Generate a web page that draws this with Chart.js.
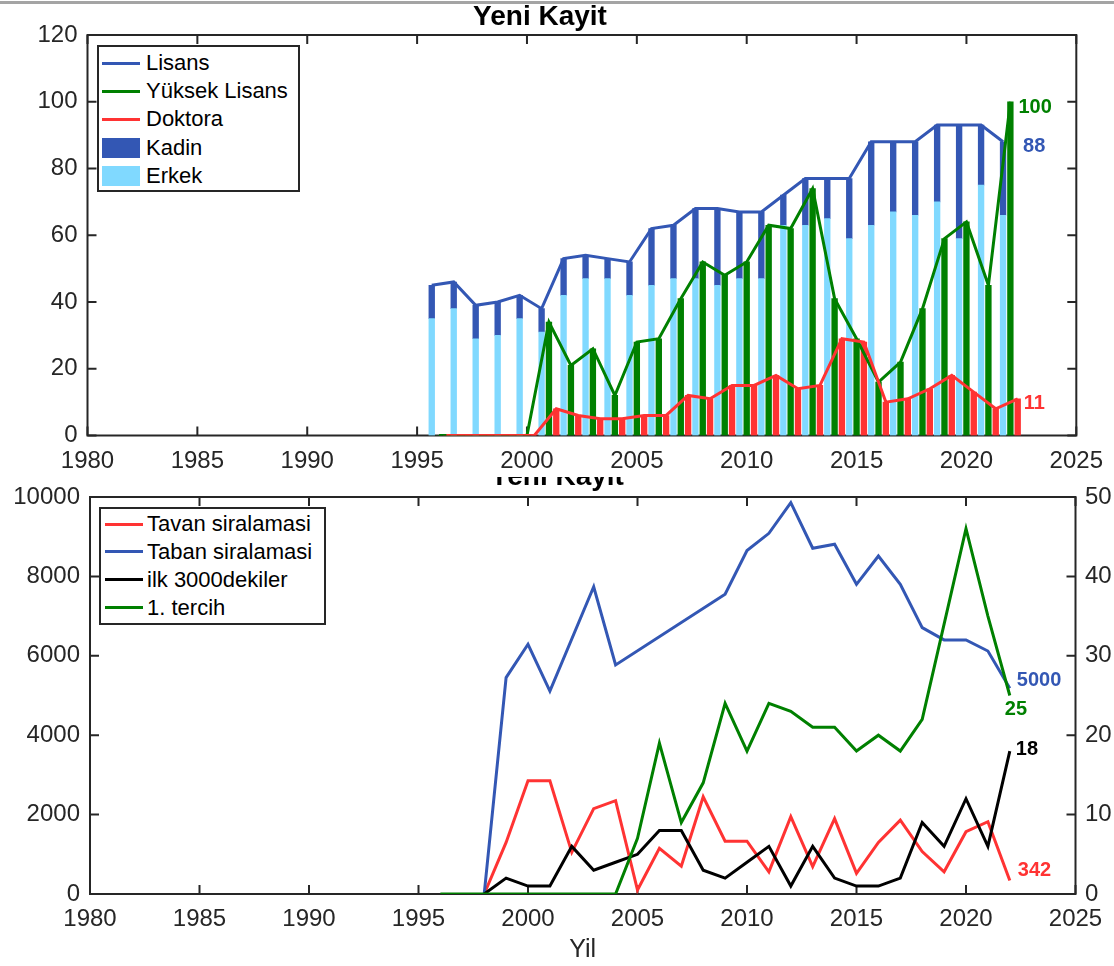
<!DOCTYPE html>
<html>
<head>
<meta charset="utf-8">
<script src="https://cdn.jsdelivr.net/npm/chart.js@4.4.1/dist/chart.umd.min.js"></script>
<style>
html,body{margin:0;padding:0;background:#fff;width:1114px;height:966px;overflow:hidden;font-family:'Liberation Sans',Arial,Helvetica,sans-serif;}
#topline{position:absolute;left:0;top:1px;width:1114px;height:3px;background:#a4a4a4;z-index:6}
#c1{position:absolute;left:0;top:0;z-index:2;background:#fff}
#c2{position:absolute;left:0;top:458px;z-index:1;background:#fff}
.legend{position:absolute;z-index:4;border:2px solid #262626;background:#fff;box-sizing:border-box}
.sw{position:absolute}
.lt{position:absolute;font-size:22px;line-height:22px;color:#000;white-space:nowrap}
</style>
</head>
<body>
<div id="topline"></div>
<canvas id="c1" width="1114" height="477"></canvas>
<canvas id="c2" width="1114" height="508"></canvas>
<div id="leg1" class="legend"></div>
<div id="leg2" class="legend"></div>
<script>
// ---------------- DATA ----------------
const years = [1996,1997,1998,1999,2000,2001,2002,2003,2004,2005,2006,2007,2008,2009,2010,2011,2012,2013,2014,2015,2016,2017,2018,2019,2020,2021,2022];

// Top chart (Yeni Kayit)
const lisansTotal  = [45,46,39,40,42,38,53,54,53,52,62,63,68,68,67,67,72,77,77,77,88,88,88,93,93,93,88];
const erkek        = [35,38,29,30,35,31,42,47,47,42,45,47,47,45,47,47,63,63,65,59,63,67,66,70,59,75,66];
const yuksekLisans = [0,0,0,0,0,34,21,26,12,28,29,41,52,48,52,63,62,74,41,29,16,22,38,59,64,45,100];
const doktora      = [0,0,0,0,0,8,6,5,5,6,6,12,11,15,15,18,14,15,29,28,10,11,14,18,13,8,11];

// Bottom chart (left axis: ranks, right axis: counts)
const tavanSiralamasi = [null,null,0,1300,2850,2850,1050,2150,2350,100,1150,700,2450,1330,1330,560,1950,690,1900,520,1300,1860,1070,560,1570,1820,342];
const tabanSiralamasi = [null,null,0,5450,6290,5110,null,7740,5770,null,null,null,null,7550,8650,9085,9857,8710,8810,7800,8514,7800,6710,6400,6400,6120,5180];
const ilk3000dekiler  = [null,null,0,2,1,1,6,3,4,5,8,8,3,2,4,6,1,6,2,1,1,2,9,6,12,6,18];
const birinciTercih   = [0,0,0,0,0,0,0,0,0,7,19,9,14,24,18,24,23,21,21,18,20,18,22,34,46,35,25];

// End-of-series labels
const topEndLabels    = { lisans: '88', yl: '100', doktora: '11' };
const bottomEndLabels = { tavan: '342', taban: '5000', ilk: '18', tercih: '25' };

// Tick labels
const xTickYears   = [1980,1985,1990,1995,2000,2005,2010,2015,2020,2025];
const yTicksTop    = [0,20,40,60,80,100,120];
const yTicksLeft   = [0,2000,4000,6000,8000,10000];
const yTicksRight  = [0,10,20,30,40,50];

// ---------------- STYLE ----------------
const BLUE = '#3357b4', LIGHT = '#80d9ff', GREEN = '#008000', RED = '#ff3333', BLACK = '#000000', AXIS = '#262626';
const FONT = "'Liberation Sans', Arial, Helvetica, sans-serif";
Chart.defaults.font.family = FONT;
Chart.defaults.color = AXIS;
const GROUP_SHIFT = 1/3;   // side-by-side group offset, in years

const pts = (xs, ys, dx) => xs.map((x, i) => ({ x: x + (dx || 0), y: ys[i] }));
const kadin = lisansTotal.map((v, i) => v - erkek[i]);

const boxPlugin = {
  id: 'box',
  beforeDatasetsDraw(chart) {
    const { ctx, chartArea: a, scales } = chart;
    const L = 9;
    ctx.save();
    ctx.strokeStyle = AXIS;
    ctx.lineWidth = 2;
    ctx.strokeRect(a.left, a.top, a.right - a.left, a.bottom - a.top);
    ctx.beginPath();
    scales.x.ticks.forEach(t => {
      const p = scales.x.getPixelForValue(t.value);
      ctx.moveTo(p, a.bottom); ctx.lineTo(p, a.bottom - L);
      ctx.moveTo(p, a.top); ctx.lineTo(p, a.top + L);
    });
    scales.y.ticks.forEach(t => {
      const p = scales.y.getPixelForValue(t.value);
      ctx.moveTo(a.left, p); ctx.lineTo(a.left + L, p);
      if (!scales.y1) { ctx.moveTo(a.right, p); ctx.lineTo(a.right - L, p); }
    });
    if (scales.y1) {
      scales.y1.ticks.forEach(t => {
        const p = scales.y1.getPixelForValue(t.value);
        ctx.moveTo(a.right, p); ctx.lineTo(a.right - L, p);
      });
    }
    ctx.stroke();
    ctx.restore();
  }
};

const endLabelPlugin = {
  id: 'endLabels',
  afterDatasetsDraw(chart) {
    const ctx = chart.ctx;
    chart.data.datasets.forEach((ds, i) => {
      if (!ds.endLabel) return;
      const els = chart.getDatasetMeta(i).data;
      let last = null;
      for (let k = els.length - 1; k >= 0; k--) { if (!els[k].skip) { last = els[k]; break; } }
      if (!last) return;
      ctx.save();
      ctx.font = 'bold 20px ' + FONT;
      ctx.fillStyle = ds.borderColor;
      ctx.textAlign = 'left';
      ctx.textBaseline = 'middle';
      ctx.fillText(ds.endLabel.text, last.x + ds.endLabel.dx, last.y + ds.endLabel.dy);
      ctx.restore();
    });
  }
};

const tickFont = { size: 24 };
const setTicks = arr => s => { s.ticks = arr.map(v => ({ value: v })); };

// ---------------- TOP CHART ----------------
const lineBase = { type: 'line', borderWidth: 3, pointRadius: 0, tension: 0, fill: false };
const chart1 = new Chart(document.getElementById('c1'), {
  type: 'bar',
  data: {
    datasets: [
      Object.assign({}, lineBase, { label: 'Lisans', data: pts(years, lisansTotal, -GROUP_SHIFT), borderColor: BLUE, stack: 'ln1', order: 3,
        endLabel: { text: topEndLabels.lisans, dx: 20, dy: 4.5 } }),
      Object.assign({}, lineBase, { label: 'Yüksek Lisans', data: pts(years, yuksekLisans, 0), borderColor: GREEN, stack: 'ln2', order: 2,
        endLabel: { text: topEndLabels.yl, dx: 8, dy: 5.5 } }),
      Object.assign({}, lineBase, { label: 'Doktora', data: pts(years, doktora, GROUP_SHIFT), borderColor: RED, stack: 'ln3', order: 1,
        endLabel: { text: topEndLabels.doktora, dx: 6, dy: 5 } }),
      { type: 'bar', label: 'Erkek', data: pts(years, erkek, -GROUP_SHIFT), backgroundColor: LIGHT, stack: 'L', order: 10 },
      { type: 'bar', label: 'Kadin', data: pts(years, kadin, -GROUP_SHIFT), backgroundColor: BLUE, stack: 'L', order: 10 },
      { type: 'bar', label: 'Yüksek Lisans (bar)', data: pts(years, yuksekLisans, 0), backgroundColor: GREEN, stack: 'Y', order: 10 },
      { type: 'bar', label: 'Doktora (bar)', data: pts(years, doktora, GROUP_SHIFT), backgroundColor: RED, stack: 'D', order: 10 }
    ]
  },
  options: {
    responsive: false, animation: false, events: [],
    datasets: { bar: { grouped: false, barThickness: 5.7, borderWidth: 0 } },
    layout: { padding: { left: 0, right: 34, top: 0, bottom: 0 } },
    plugins: {
      legend: { display: false }, tooltip: { enabled: false },
      title: { display: true, text: 'Yeni Kayit', color: '#000', font: { size: 28, weight: 'bold' }, padding: { top: 0, bottom: 1.4 } }
    },
    scales: {
      x: {
        type: 'linear', min: 1980, max: 2025, offset: false,
        grid: { display: false, drawTicks: false, offset: false }, border: { display: false },
        afterBuildTicks: setTicks(xTickYears),
        afterFit: s => { s.height = 41.5; },
        ticks: { autoSkip: false, maxRotation: 0, padding: 11, color: AXIS, font: tickFont, callback: v => String(v) }
      },
      y: {
        type: 'linear', min: 0, max: 120, stacked: true,
        grid: { display: false, drawTicks: false }, border: { display: false },
        afterBuildTicks: setTicks(yTicksTop),
        afterFit: s => { s.width = 87.5; },
        ticks: { padding: 10, color: AXIS, font: tickFont, callback: v => String(v) }
      }
    }
  },
  plugins: [boxPlugin, endLabelPlugin]
});

// ---------------- BOTTOM CHART ----------------
const chart2 = new Chart(document.getElementById('c2'), {
  type: 'line',
  data: {
    datasets: [
      Object.assign({}, lineBase, { label: 'Tavan siralamasi', data: pts(years, tavanSiralamasi), borderColor: RED, yAxisID: 'y', order: 4,
        endLabel: { text: bottomEndLabels.tavan, dx: 8, dy: -10 } }),
      Object.assign({}, lineBase, { label: 'Taban siralamasi', data: pts(years, tabanSiralamasi), borderColor: BLUE, yAxisID: 'y', order: 3, spanGaps: true,
        endLabel: { text: bottomEndLabels.taban, dx: 7, dy: -8 } }),
      Object.assign({}, lineBase, { label: 'ilk 3000dekiler', data: pts(years, ilk3000dekiler), borderColor: BLACK, yAxisID: 'y1', order: 2,
        endLabel: { text: bottomEndLabels.ilk, dx: 6, dy: -2 } }),
      Object.assign({}, lineBase, { label: '1. tercih', data: pts(years, birinciTercih), borderColor: GREEN, yAxisID: 'y1', order: 1,
        endLabel: { text: bottomEndLabels.tercih, dx: -5, dy: 13.5 } })
    ]
  },
  options: {
    responsive: false, animation: false, events: [],
    layout: { padding: { left: 0, right: 0, top: 0, bottom: 0 } },
    plugins: {
      legend: { display: false }, tooltip: { enabled: false },
      title: { display: true, text: 'Yeni Kayit', color: '#000', font: { size: 28, weight: 'bold' }, padding: { top: 2.2, bottom: 3.2 } }
    },
    scales: {
      x: {
        type: 'linear', min: 1980, max: 2025, offset: false,
        grid: { display: false, drawTicks: false }, border: { display: false },
        afterBuildTicks: setTicks(xTickYears),
        afterFit: s => { s.height = 72; },
        ticks: { autoSkip: false, maxRotation: 0, padding: 11, color: AXIS, font: tickFont, callback: v => String(v) },
        title: { display: true, text: 'Yil', color: AXIS, font: { size: 25 }, padding: { top: 0, bottom: 1 } }
      },
      y: {
        type: 'linear', position: 'left', min: 0, max: 10000,
        grid: { display: false, drawTicks: false }, border: { display: false },
        afterBuildTicks: setTicks(yTicksLeft),
        afterFit: s => { s.width = 90; },
        ticks: { padding: 10, color: AXIS, font: tickFont, callback: v => String(v) }
      },
      y1: {
        type: 'linear', position: 'right', min: 0, max: 50,
        grid: { display: false, drawTicks: false }, border: { display: false },
        afterBuildTicks: setTicks(yTicksRight),
        afterFit: s => { s.width = 38.5; },
        ticks: { padding: 9.5, color: AXIS, font: tickFont, callback: v => String(v) }
      }
    }
  },
  plugins: [boxPlugin, endLabelPlugin]
});

// ---------------- LEGENDS (HTML, built from the chart datasets) ----------------
function buildLegend(el, box, rowTop, rowStep, swLeft, textLeft, entries) {
  el.style.left = box.left + 'px'; el.style.top = box.top + 'px';
  el.style.width = box.width + 'px'; el.style.height = box.height + 'px';
  entries.forEach((e, i) => {
    const cy = rowTop + i * rowStep;
    const sw = document.createElement('div');
    sw.className = 'sw';
    sw.style.left = swLeft + 'px';
    sw.style.width = '38px';
    if (e.kind === 'line') {
      sw.style.top = (cy - 1.5) + 'px'; sw.style.height = '3px'; sw.style.background = e.color;
    } else {
      sw.style.top = (cy - 10) + 'px'; sw.style.height = '20px'; sw.style.background = e.color;
    }
    el.appendChild(sw);
    const t = document.createElement('div');
    t.className = 'lt';
    t.textContent = e.text;
    t.style.left = textLeft + 'px';
    t.style.top = (cy - 11) + 'px';
    el.appendChild(t);
  });
}
const d1 = chart1.data.datasets, d2 = chart2.data.datasets;
buildLegend(document.getElementById('leg1'), { left: 97, top: 45, width: 203, height: 147 }, 16, 28.2, 3.3, 47, [
  { kind: 'line', text: d1[0].label, color: d1[0].borderColor },
  { kind: 'line', text: d1[1].label, color: d1[1].borderColor },
  { kind: 'line', text: d1[2].label, color: d1[2].borderColor },
  { kind: 'box', text: d1[4].label, color: d1[4].backgroundColor },
  { kind: 'box', text: d1[3].label, color: d1[3].backgroundColor }
]);
buildLegend(document.getElementById('leg2'), { left: 99, top: 507, width: 227, height: 118 }, 15, 27.9, 4, 46, d2.map(d => ({ kind: 'line', text: d.label, color: d.borderColor })));
</script>
</body>
</html>
